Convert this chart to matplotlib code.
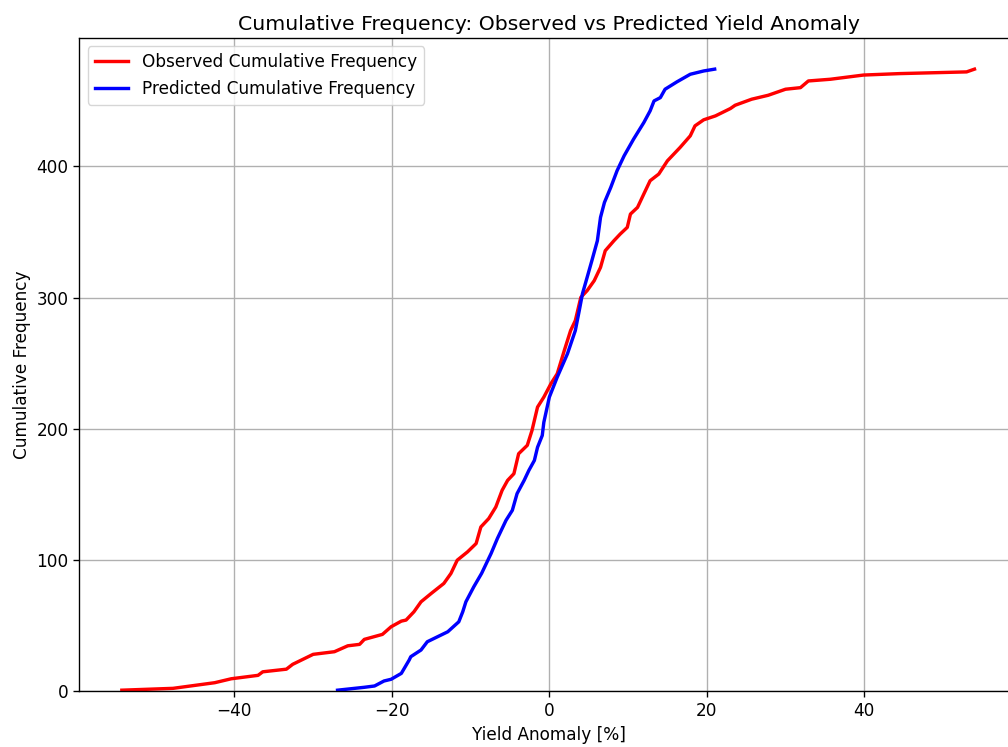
import matplotlib
matplotlib.use("Agg")
import matplotlib.pyplot as plt

# cumulative counts vs yield anomaly (%)
obs_x = [-54.3, -47.8, -44.6, -42.5, -40.4, -37.0, -36.4, -33.4, -32.6, -30.0,
         -27.3, -25.6, -24.1, -23.5, -21.2, -20.1, -18.8, -18.2, -17.2, -16.3,
         -15.0, -13.4, -12.5, -11.7, -10.4, -9.3, -8.7, -7.7, -6.8, -6.0,
         -5.3, -4.5, -3.9, -2.8, -2.2, -1.5, -0.7, 0.2, 1.0, 1.9,
         2.7, 3.3, 4.0, 4.8, 5.7, 6.5, 7.1, 8.2, 9.0, 9.9,
         10.3, 11.2, 12.0, 12.8, 13.9, 15.0, 16.6, 17.9, 18.5, 19.6,
         21.1, 23.0, 23.6, 25.7, 27.8, 30.0, 31.9, 32.9, 35.7, 39.9,
         44.5, 53.0, 54.0]
obs_y = [1, 2.4, 5, 6.7, 9.7, 12.3, 15, 17, 20.7, 28.3,
         30.3, 34.8, 35.9, 39.7, 43.5, 49.3, 53.6, 54.4, 60.7, 68.3,
         74.7, 82.3, 89.9, 100, 106.3, 112.7, 125.3, 131.7, 140.5, 153.2,
         160.8, 165.9, 181.1, 187.5, 198.9, 216.6, 224.2, 234.4, 242, 259.7,
         274.9, 282.5, 300.2, 305.3, 312.9, 323, 335.7, 343.3, 348.4, 353.5,
         363.6, 368.7, 378.9, 389, 394.1, 404.2, 414.3, 423.2, 430.8, 435.4,
         438.4, 444, 446.5, 451.1, 454.1, 458.7, 459.9, 465, 466.3, 469.5,
         470.6, 471.9, 474]

pred_x = [-26.9, -23.5, -22.2, -21.0, -20.1, -18.8, -17.8, -17.6, -16.3, -15.5,
          -14.2, -12.9, -11.5, -11.0, -10.6, -9.6, -8.6, -7.4, -6.6, -5.5,
          -4.7, -4.1, -3.2, -2.6, -1.9, -1.5, -0.9, -0.7, 0.0, 1.0,
          2.3, 3.3, 3.8, 4.2, 4.8, 5.4, 6.1, 6.5, 7.0, 7.8,
          8.6, 9.5, 10.7, 12.0, 12.8, 13.3, 14.1, 14.7, 16.2, 17.9,
          19.6, 21.0]
pred_y = [1, 3.2, 4.2, 8, 9.3, 13.8, 24, 26.5, 31.6, 37.9,
          41.7, 45.5, 53.1, 60.7, 68.3, 79.7, 90, 105.1, 116.5, 130.4,
          138, 150.7, 160.8, 168.4, 176, 186, 195, 205, 224.2, 239.4,
          257.2, 274.9, 290.1, 302.8, 315.4, 328.1, 343.3, 361.1, 372.5, 383.9,
          396.6, 408, 420.7, 433.3, 442.2, 449.8, 452.3, 458.7, 464.3, 470.1,
          472.6, 474]

# everything a bit larger than the defaults
scale = 1.22
plt.rcParams.update({
    "font.size": 10 * scale,
    "axes.titlesize": 12 * scale,
    "axes.linewidth": 0.8 * scale,
    "grid.linewidth": 0.8 * scale,
    "xtick.major.size": 3.5 * scale,
    "ytick.major.size": 3.5 * scale,
    "xtick.major.width": 0.8 * scale,
    "ytick.major.width": 0.8 * scale,
})

fig = plt.figure(figsize=(10.08, 7.47), dpi=100)
ax = fig.add_axes([0.0787, 0.0743, 0.931, 0.8748])

ax.plot(obs_x, obs_y, color="red", linewidth=2 * scale, label="Observed Cumulative Frequency")
ax.plot(pred_x, pred_y, color="blue", linewidth=2 * scale, label="Predicted Cumulative Frequency")

ax.set_xlim(-59.7, 59.5)
ax.set_ylim(0, 497.7)
ax.set_xticks([-40, -20, 0, 20, 40])
ax.set_yticks([0, 100, 200, 300, 400])
ax.set_title("Cumulative Frequency: Observed vs Predicted Yield Anomaly")
ax.set_xlabel("Yield Anomaly [%]")
ax.set_ylabel("Cumulative Frequency")
ax.grid(True)
ax.legend(loc="upper left")

fig.savefig("out.png", dpi=100)
